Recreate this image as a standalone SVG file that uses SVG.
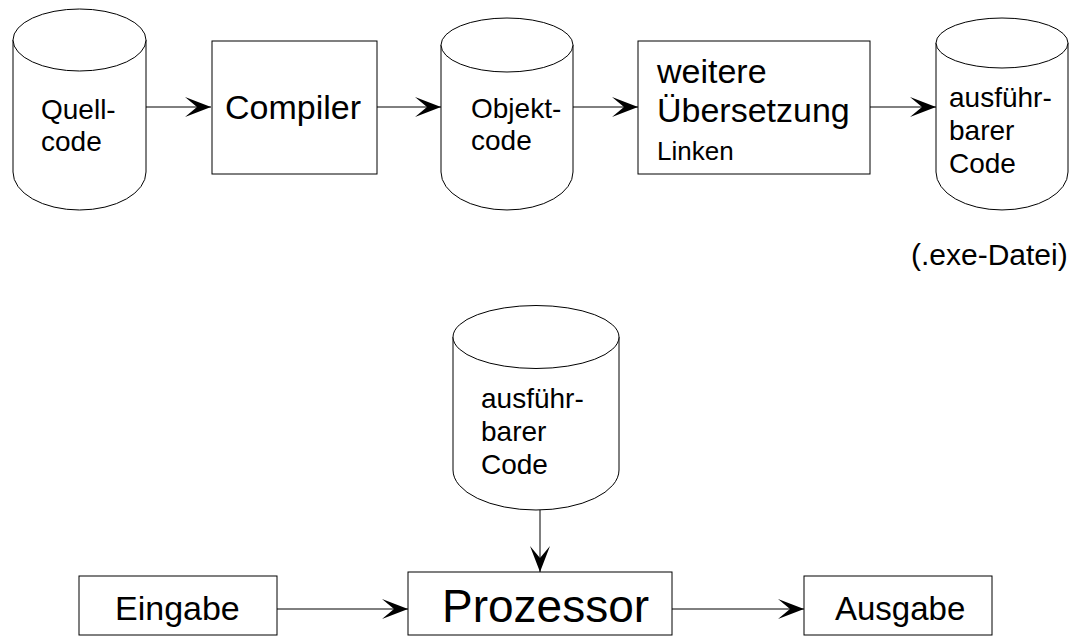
<svg xmlns="http://www.w3.org/2000/svg" width="1070" height="639" viewBox="0 0 1070 639">
<style>
.s{fill:none;stroke:#000;stroke-width:1}
.bx{fill:#fff;stroke:#000;stroke-width:1}
.t{font-family:"Liberation Sans",Arial,sans-serif;fill:#000}
.t28{font-size:28px}
.t34{font-size:34px}
</style>
<defs>
<marker id="ah" viewBox="-28 -12 30 24" refX="0" refY="0" markerWidth="30" markerHeight="24" markerUnits="userSpaceOnUse" orient="auto">
<path d="M0,0 L-26,-10 L-14,0 L-26,10 Z" fill="#000"/>
</marker>
</defs>
<g id="connectors">
<line class="s" x1="146" y1="107" x2="211" y2="107" marker-end="url(#ah)"/>
<line class="s" x1="377" y1="107" x2="441" y2="107" marker-end="url(#ah)"/>
<line class="s" x1="573" y1="107" x2="638" y2="107" marker-end="url(#ah)"/>
<line class="s" x1="870" y1="107" x2="936" y2="107" marker-end="url(#ah)"/>
<line class="s" x1="540" y1="510" x2="540" y2="572" marker-end="url(#ah)"/>
<line class="s" x1="277" y1="609" x2="408" y2="609" marker-end="url(#ah)"/>
<line class="s" x1="672" y1="609" x2="804" y2="609" marker-end="url(#ah)"/>
</g>
<g id="quellcode">
<path class="bx" d="M13,40 L13,172 A66.5,38 0 0 0 146,172 L146,40"/>
<ellipse class="bx" cx="79.5" cy="40" rx="66.5" ry="31"/>
<text class="t t28" x="41" y="119">Quell-</text>
<text class="t t28" x="41" y="151">code</text>
</g>
<g id="compiler">
<rect class="bx" x="212" y="41" width="165" height="133"/>
<text class="t t34" x="225" y="119">Compiler</text>
</g>
<g id="objektcode">
<path class="bx" d="M441,45 L441,172 A66,38 0 0 0 573,172 L573,45"/>
<ellipse class="bx" cx="507" cy="45" rx="66" ry="27"/>
<text class="t t28" x="471" y="118">Objekt-</text>
<text class="t t28" x="471" y="150">code</text>
</g>
<g id="uebersetzung">
<rect class="bx" x="638" y="41" width="232" height="133"/>
<text class="t t34" x="657" y="83">weitere</text>
<text class="t t34" x="657" y="122">Übersetzung</text>
<text class="t" font-size="26" x="657" y="160">Linken</text>
</g>
<g id="exe">
<path class="bx" d="M936,43 L936,172 A66,38 0 0 0 1068,172 L1068,43"/>
<ellipse class="bx" cx="1002" cy="43" rx="66" ry="25"/>
<text class="t t28" x="949" y="107">ausführ-</text>
<text class="t t28" x="949" y="140">barer</text>
<text class="t t28" x="949" y="173">Code</text>
</g>
<g id="exe-label">
<text class="t" font-size="30" x="911" y="265">(.exe-Datei)</text>
</g>
<g id="exe2">
<path class="bx" d="M453,337 L453,470 A83,40 0 0 0 619,470 L619,337"/>
<ellipse class="bx" cx="536" cy="337" rx="83" ry="31.5"/>
<text class="t t28" x="481" y="408">ausführ-</text>
<text class="t t28" x="481" y="441">barer</text>
<text class="t t28" x="481" y="474">Code</text>
</g>
<g id="eingabe">
<rect class="bx" x="79" y="576" width="198" height="59"/>
<text class="t" font-size="34" x="115" y="620">Eingabe</text>
</g>
<g id="prozessor">
<rect class="bx" x="408" y="572" width="264" height="63"/>
<text class="t" font-size="46" x="442" y="622">Prozessor</text>
</g>
<g id="ausgabe">
<rect class="bx" x="804" y="576" width="188" height="59"/>
<text class="t" font-size="33" x="835" y="620">Ausgabe</text>
</g>
</svg>
